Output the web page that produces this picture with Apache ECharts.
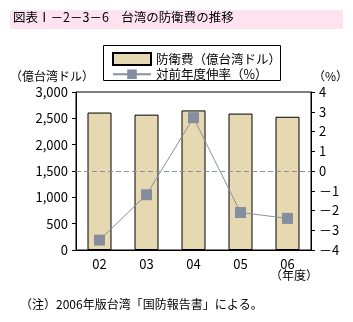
<!DOCTYPE html>
<html><head><meta charset="utf-8">
<script src="https://cdn.jsdelivr.net/npm/echarts@6/dist/echarts.min.js"></script>
<style>html,body{margin:0;padding:0;background:#fff}#c{width:353px;height:322px}</style>
</head><body><div id="c"></div>
<script>
const categories = ['02','03','04','05','06'];
const defense = [2610, 2570, 2650, 2590, 2530];
const growth = [-3.5, -1.2, 2.7, -2.1, -2.4];
const leftTicks = [0, 500, 1000, 1500, 2000, 2500, 3000];
const rightTicks = [-4, -3, -2, -1, 0, 1, 2, 3, 4];
const F = '"Noto Sans CJK JP", sans-serif';
const chart = echarts.init(document.getElementById('c'));
chart.setOption({
  animation: false,
  textStyle: { fontFamily: F },
  graphic: [
    { type: 'rect', shape: { x: 10, y: 10, width: 333, height: 19 }, style: { fill: '#fde3ef' } },
    { type: 'text', left: 13, top: 11, style: { text: '図表Ⅰ－2－3－6　台湾の防衛費の推移', font: '12.5px "Noto Sans CJK JP"', fill: '#000' } },
    { type: 'rect', shape: { x: 103.5, y: 45.5, width: 177, height: 35 }, style: { fill: 'none', stroke: '#000', lineWidth: 1 } },
    { type: 'text', left: 10, top: 70, style: { text: '（億台湾ドル）', font: '12px "Noto Sans CJK JP"', fill: '#000' } },
    { type: 'text', left: 313, top: 70, style: { text: '（%）', font: '12px "Noto Sans CJK JP"', fill: '#000' } },
    { type: 'text', left: 270, top: 269, style: { text: '（年度）', font: '12px "Noto Sans CJK JP"', fill: '#000' } },
    { type: 'text', left: 20, top: 298, style: { text: '（注）2006年版台湾「国防報告書」による。', font: '12px "Noto Sans CJK JP"', fill: '#000' } }
  ],
  legend: {
    orient: 'vertical', left: 107, top: 47, itemGap: 2, itemWidth: 38, itemHeight: 12,
    textStyle: { fontSize: 12.5, color: '#000', fontFamily: F },
    data: [
      { name: '防衛費（億台湾ドル）', icon: 'rect' },
      { name: '対前年度伸率（%）' }
    ]
  },
  grid: { left: 76, right: 42, top: 92, bottom: 72, show: true, borderColor: '#000', borderWidth: 1, backgroundColor: 'transparent' },
  xAxis: {
    type: 'category', data: categories,
    axisLine: { lineStyle: { color: '#000' } },
    axisTick: { show: false },
    axisLabel: { color: '#000', fontSize: 13, margin: 8, fontFamily: F }
  },
  yAxis: [
    {
      type: 'value', min: leftTicks[0], max: leftTicks[leftTicks.length - 1], interval: 500,
      axisLine: { show: true, lineStyle: { color: '#000' } },
      axisTick: { show: true, length: 4, lineStyle: { color: '#000' } },
      splitLine: { show: false },
      axisLabel: { color: '#000', fontSize: 13, margin: 8, fontFamily: F,
        formatter: v => v.toLocaleString('en-US') }
    },
    {
      type: 'value', min: rightTicks[0], max: rightTicks[rightTicks.length - 1], interval: 1,
      position: 'right',
      axisLine: { show: true, lineStyle: { color: '#000' } },
      axisTick: { show: true, length: 4, lineStyle: { color: '#000' } },
      splitLine: { show: false },
      axisLabel: { color: '#000', fontSize: 13, margin: 8, fontFamily: F,
        formatter: v => v < 0 ? '－' + Math.abs(v) : String(v) }
    }
  ],
  series: [
    {
      name: '防衛費（億台湾ドル）', type: 'bar', data: defense, barWidth: 24,
      itemStyle: { color: '#e6d9b1', borderColor: '#000', borderWidth: 1 }
    },
    {
      name: '対前年度伸率（%）', type: 'line', yAxisIndex: 1, data: growth,
      symbol: 'rect', symbolSize: 11,
      itemStyle: { color: '#858e9e' },
      lineStyle: { color: '#8790a0', width: 1 },
      markLine: {
        silent: true, symbol: 'none', label: { show: false },
        lineStyle: { color: '#8a8f9a', type: [5, 3], width: 1.2 },
        data: [{ yAxis: 0 }]
      }
    }
  ]
});
</script></body></html>
